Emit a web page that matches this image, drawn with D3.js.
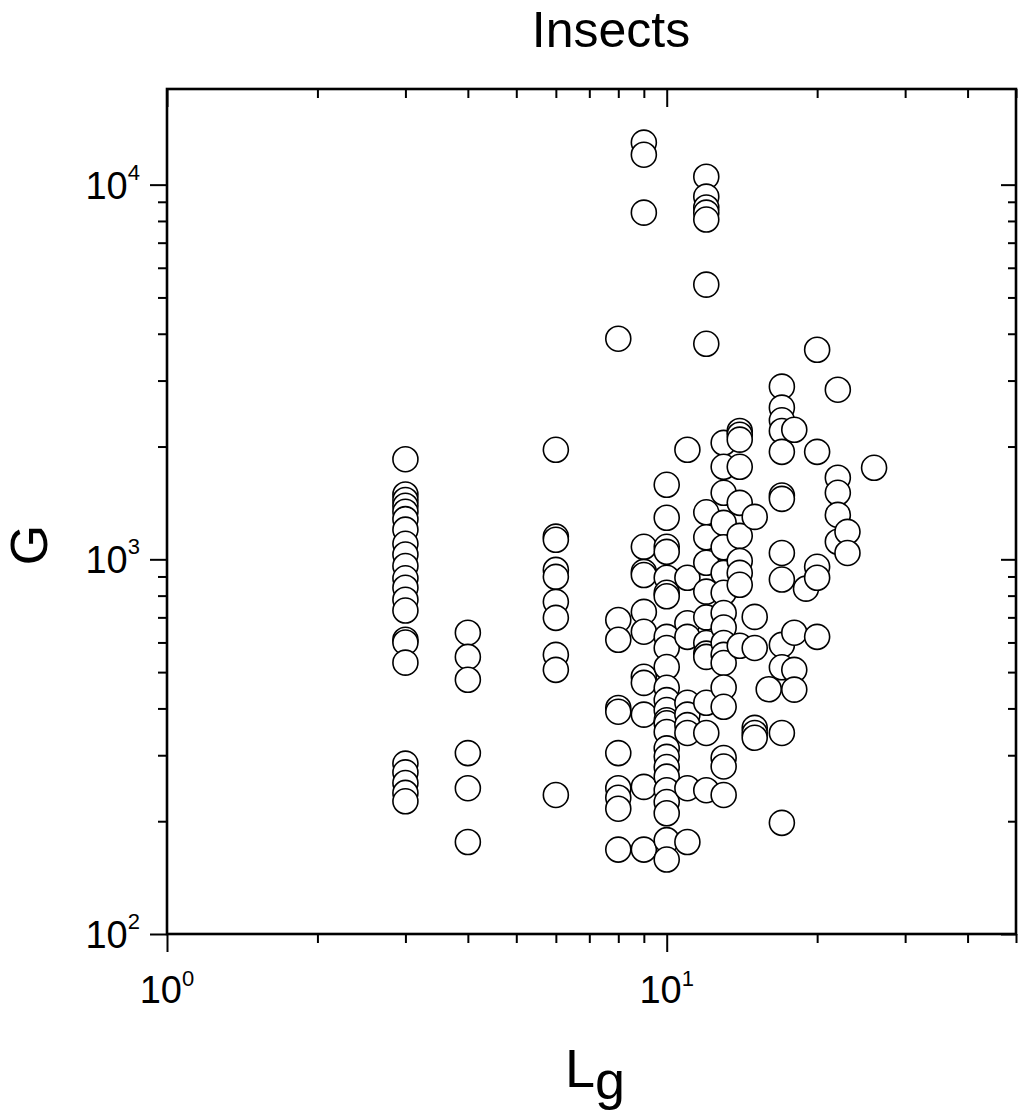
<!DOCTYPE html>
<html>
<head>
<meta charset="utf-8">
<script src="https://cdn.jsdelivr.net/npm/d3@7"></script>
<style>
  body { margin: 0; background: #ffffff; }
  svg { display: block; font-family: "Liberation Sans", Arial, sans-serif; }
</style>
</head>
<body>
<script>
// L_g value of each column of points
var lgValues = [3, 4, 6, 8, 9, 10, 11, 12, 13, 14, 15, 16, 17, 18, 19, 20, 22, 23, 26];

// G values read for each column, same order as lgValues
var gValues = [
  [1850, 1490, 1440, 1390, 1340, 1280, 1200, 1100, 1030, 960, 890, 840, 780, 730, 610, 600, 530, 285, 270, 253, 238, 226],
  [637, 549, 477, 304, 245, 176],
  [1960, 1150, 1128, 937, 898, 770, 698, 556, 507, 235],
  [3880, 689, 610, 401, 392, 304, 245, 231, 216, 168],
  [12950, 12020, 8420, 1080, 926, 908, 724, 641, 486, 468, 385, 247, 168],
  [1581, 1291, 1080, 1047, 893, 814, 797, 621, 580, 516, 454, 421, 396, 372, 365, 346, 313, 297, 279, 263, 242, 225, 210, 178, 158],
  [1961, 893, 675, 621, 414, 385, 361, 344, 245, 176],
  [10500, 9290, 8690, 8420, 8070, 5410, 3760, 1335, 1145, 979, 820, 700, 598, 560, 549, 414, 344, 242],
  [2046, 1766, 1505, 1251, 1077, 920, 814, 719, 658, 598, 556, 529, 455, 404, 295, 280, 235],
  [2200, 2150, 2087, 1766, 1415, 1155, 990, 920, 855, 588],
  [1298, 702, 580, 355, 344, 334],
  [450],
  [2890, 2540, 2350, 2200, 1936, 1480, 1450, 1040, 883, 591, 515, 344, 198],
  [2217, 637, 507, 449],
  [835],
  [3625, 1936, 955, 893, 621],
  [2836, 1651, 1505, 1314, 1114],
  [1184, 1040],
  [1755]
];

var xDomain = [1, 50];
var yDomain = [100, 18000];

var titleText = "Insects";
var xLabelMain = "L", xLabelSub = "g";
var yLabelText = "G";

var width = 1024, height = 1119;
var pLeft = 167, pRight = 1016, pTop = 89, pBottom = 934;

var svg = d3.select("body").append("svg")
    .attr("width", width)
    .attr("height", height);

var x = d3.scaleLog().domain(xDomain).range([pLeft, pRight]);
var y = d3.scaleLog().domain(yDomain).range([pBottom, pTop]);

function isMajor(v) {
    var l = Math.log10(v);
    return Math.abs(l - Math.round(l)) < 1e-9;
}

var xAll = x.ticks();
var xMajor = xAll.filter(isMajor);
var xMinor = xAll.filter(function (v) { return !isMajor(v); });
var yAll = y.ticks();
var yMajor = yAll.filter(isMajor);
var yMinor = yAll.filter(function (v) { return !isMajor(v); });

function drawAxis(axis, tx, ty) {
    var g = svg.append("g")
        .attr("transform", "translate(" + tx + "," + ty + ")")
        .call(axis);
    g.select(".domain").remove();
    g.selectAll(".tick line").attr("stroke", "#000").attr("stroke-width", 2);
    return g;
}

// bottom: outward ticks
drawAxis(d3.axisBottom(x).tickValues(xMinor).tickSize(9).tickFormat(""), 0, pBottom);
drawAxis(d3.axisBottom(x).tickValues(xMajor).tickSize(18).tickFormat(""), 0, pBottom);
// top: inward ticks
drawAxis(d3.axisTop(x).tickValues(xMinor).tickSize(-9).tickFormat(""), 0, pTop);
drawAxis(d3.axisTop(x).tickValues(xMajor).tickSize(-18).tickFormat(""), 0, pTop);
// left: outward ticks
drawAxis(d3.axisLeft(y).tickValues(yMinor).tickSize(9).tickFormat(""), pLeft, 0);
drawAxis(d3.axisLeft(y).tickValues(yMajor).tickSize(17).tickFormat(""), pLeft, 0);
// right: inward ticks
drawAxis(d3.axisRight(y).tickValues(yMinor).tickSize(-8).tickFormat(""), pRight, 0);
drawAxis(d3.axisRight(y).tickValues(yMajor).tickSize(-15).tickFormat(""), pRight, 0);

// frame
svg.append("rect")
    .attr("x", pLeft)
    .attr("y", pTop)
    .attr("width", pRight - pLeft)
    .attr("height", pBottom - pTop)
    .attr("fill", "none")
    .attr("stroke", "#000")
    .attr("stroke-width", 2.6);

// tick labels, 10 with exponent
var xLab = svg.selectAll(".xlab").data(xMajor).enter().append("text")
    .attr("class", "xlab")
    .attr("x", function (d) { return x(d); })
    .attr("y", 1003)
    .attr("text-anchor", "middle")
    .attr("font-size", 38)
    .attr("fill", "#000");
xLab.append("tspan").text("10");
xLab.append("tspan").attr("font-size", 22).attr("dy", -17)
    .text(function (d) { return Math.round(Math.log10(d)); });

var yLab = svg.selectAll(".ylab").data(yMajor).enter().append("text")
    .attr("class", "ylab")
    .attr("x", 140)
    .attr("y", function (d) { return y(d) + 14; })
    .attr("text-anchor", "end")
    .attr("font-size", 38)
    .attr("fill", "#000");
yLab.append("tspan").text("10");
yLab.append("tspan").attr("font-size", 22).attr("dy", -19)
    .text(function (d) { return Math.round(Math.log10(d)); });

// points
var points = [];
lgValues.forEach(function (lg, i) {
    gValues[i].forEach(function (g) { points.push({ lg: lg, g: g }); });
});

svg.append("g").selectAll("circle").data(points).enter().append("circle")
    .attr("cx", function (d) { return x(d.lg); })
    .attr("cy", function (d) { return y(d.g); })
    .attr("r", 12.5)
    .attr("fill", "#fff")
    .attr("stroke", "#000")
    .attr("stroke-width", 1.6);

// titles
svg.append("text")
    .attr("x", 611)
    .attr("y", 47)
    .attr("text-anchor", "middle")
    .attr("font-size", 50)
    .attr("fill", "#000")
    .text(titleText);

var xl = svg.append("text")
    .attr("x", 565)
    .attr("y", 1087)
    .attr("font-size", 54)
    .attr("fill", "#000");
xl.append("tspan").text(xLabelMain);
xl.append("tspan").attr("dy", 12).text(xLabelSub);

svg.append("text")
    .attr("transform", "translate(47,545) rotate(-90)")
    .attr("text-anchor", "middle")
    .attr("font-size", 52)
    .attr("fill", "#000")
    .text(yLabelText);
</script>
</body>
</html>
